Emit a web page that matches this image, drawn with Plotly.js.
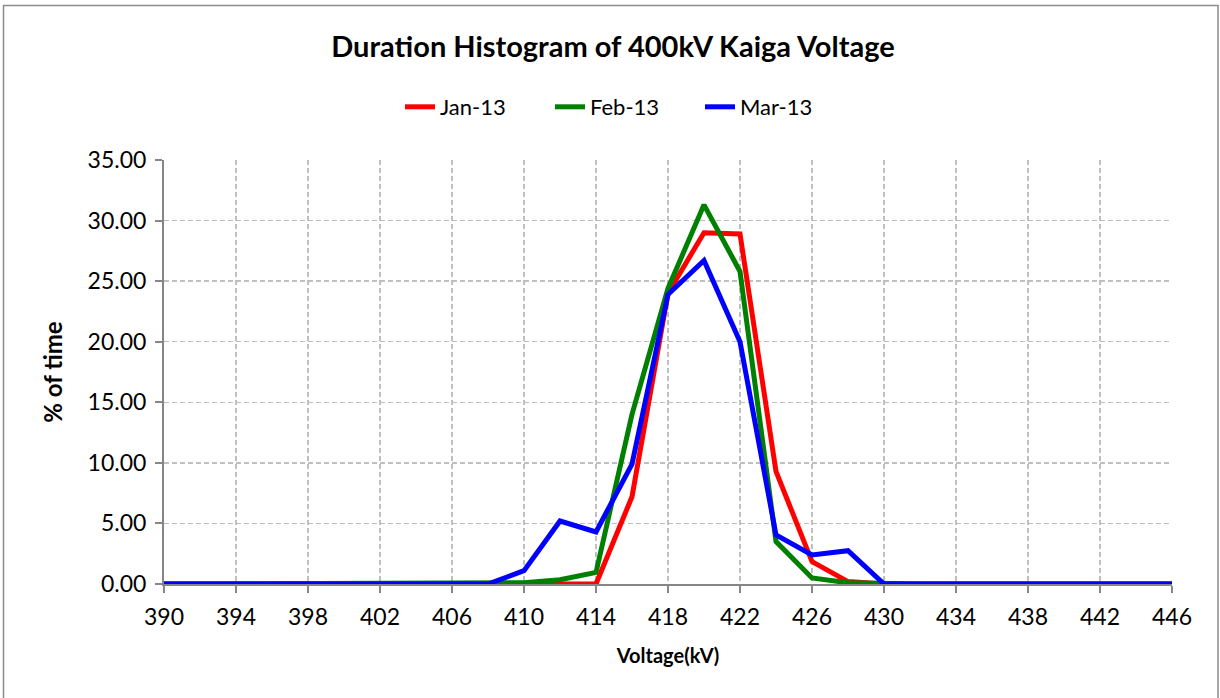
<!DOCTYPE html>
<html>
<head>
<meta charset="utf-8">
<script src="https://cdn.plot.ly/plotly-3.0.1.min.js"></script>
<style>
html, body { margin: 0; padding: 0; background: #ffffff; }
#chart { width: 1220px; height: 698px; }
</style>
</head>
<body>
<div id="chart"></div>
<script>
// Voltage bins (kV)
const voltage = [390, 392, 394, 396, 398, 400, 402, 404, 406, 408,
                 410, 412, 414, 416, 418, 420, 422, 424, 426, 428,
                 430, 432, 434, 436, 438, 440, 442, 444, 446];

// % of time per bin
const jan13 = [0, 0, 0, 0, 0, 0, 0, 0, 0, 0,
               0, 0, 0, 7.2, 24.0, 29.0, 28.9, 9.3, 1.85, 0.2,
               0, 0, 0, 0, 0, 0, 0, 0, 0];
const feb13 = [0, 0, 0, 0, 0, 0, 0, 0, 0, 0,
               0.1, 0.35, 0.95, 14.0, 24.4, 31.3, 25.8, 3.5, 0.5, 0.1,
               0, 0, 0, 0, 0, 0, 0, 0, 0];
const mar13 = [0, 0, 0, 0, 0, 0, 0, 0, 0, 0,
               1.1, 5.2, 4.3, 9.9, 23.9, 26.7, 20.0, 4.05, 2.4, 2.75,
               0, 0, 0, 0, 0, 0, 0, 0, 0];

const seriesNames = ["Jan-13", "Feb-13", "Mar-13"];
const seriesColors = ["#ff0000", "#008000", "#0000ff"];
const seriesValues = [jan13, feb13, mar13];

const xTicks = [390, 394, 398, 402, 406, 410, 414, 418, 422, 426, 430, 434, 438, 442, 446];
const yTicks = [0, 5, 10, 15, 20, 25, 30, 35];

const FONT = "Lato, 'Open Sans', 'DejaVu Sans', sans-serif";

const traces = seriesValues.map((vals, i) => ({
  x: voltage,
  y: vals,
  name: seriesNames[i],
  type: "scatter",
  mode: "lines",
  line: { color: seriesColors[i], width: 5 },
  cliponaxis: false
}));

const layout = {
  width: 1220,
  height: 698,
  paper_bgcolor: "#ffffff",
  plot_bgcolor: "#ffffff",
  margin: { l: 164, r: 48, t: 160, b: 114 },
  font: { family: FONT, color: "#000000" },
  title: {
    text: "<b>Duration Histogram of 400kV Kaiga Voltage</b>",
    font: { family: FONT, size: 29, color: "#000000" },
    x: (613 - 0) / 1220, xanchor: "center",
    y: 1 - 47 / 698, yanchor: "middle", yref: "container"
  },
  showlegend: true,
  legend: {
    orientation: "h",
    x: (400 - 164) / 1008, xanchor: "left",
    y: 1.125, yanchor: "middle",
    font: { family: FONT, size: 22, color: "#000000" },
    entrywidth: 105,
    bgcolor: "rgba(0,0,0,0)"
  },
  xaxis: {
    range: [390, 446],
    tickmode: "array",
    tickvals: xTicks,
    ticktext: xTicks.map(String),
    showgrid: true,
    gridcolor: "#bfbfbf",
    griddash: "5px,3px",
    gridwidth: 1.5,
    showline: true,
    linecolor: "#868686",
    linewidth: 2,
    ticks: "outside",
    ticklen: 7,
    tickcolor: "#868686",
    tickwidth: 2,
    ticklabelstandoff: 4,
    tickfont: { family: FONT, size: 23, color: "#000000" },
    zeroline: false,
    title: {
      text: "<b>Voltage(kV)</b>",
      font: { family: FONT, size: 20, color: "#000000" },
      standoff: 20
    }
  },
  yaxis: {
    range: [0, 35],
    tickmode: "array",
    tickvals: yTicks,
    ticktext: yTicks.map(v => v.toFixed(2)),
    showgrid: true,
    gridcolor: "#bfbfbf",
    griddash: "5px,3px",
    gridwidth: 1.5,
    showline: true,
    linecolor: "#868686",
    linewidth: 2,
    ticks: "outside",
    ticklen: 7,
    tickcolor: "#868686",
    tickwidth: 2,
    ticklabelstandoff: 4,
    tickfont: { family: FONT, size: 23, color: "#000000" },
    zeroline: false,
    title: {
      text: "<b>% of time</b>",
      font: { family: FONT, size: 24, color: "#000000" },
      standoff: 18
    }
  },
  shapes: [{
    type: "rect",
    xref: "paper", yref: "paper",
    x0: (3.5 - 164) / 1008, x1: (1218 - 164) / 1008,
    y0: (584 - 702) / 424, y1: (584 - 5.5) / 424,
    line: { color: "#8c8c8c", width: 1.5 },
    fillcolor: "rgba(0,0,0,0)",
    layer: "below"
  }]
};

Plotly.newPlot("chart", traces, layout, { displayModeBar: false, staticPlot: true });
</script>
</body>
</html>
